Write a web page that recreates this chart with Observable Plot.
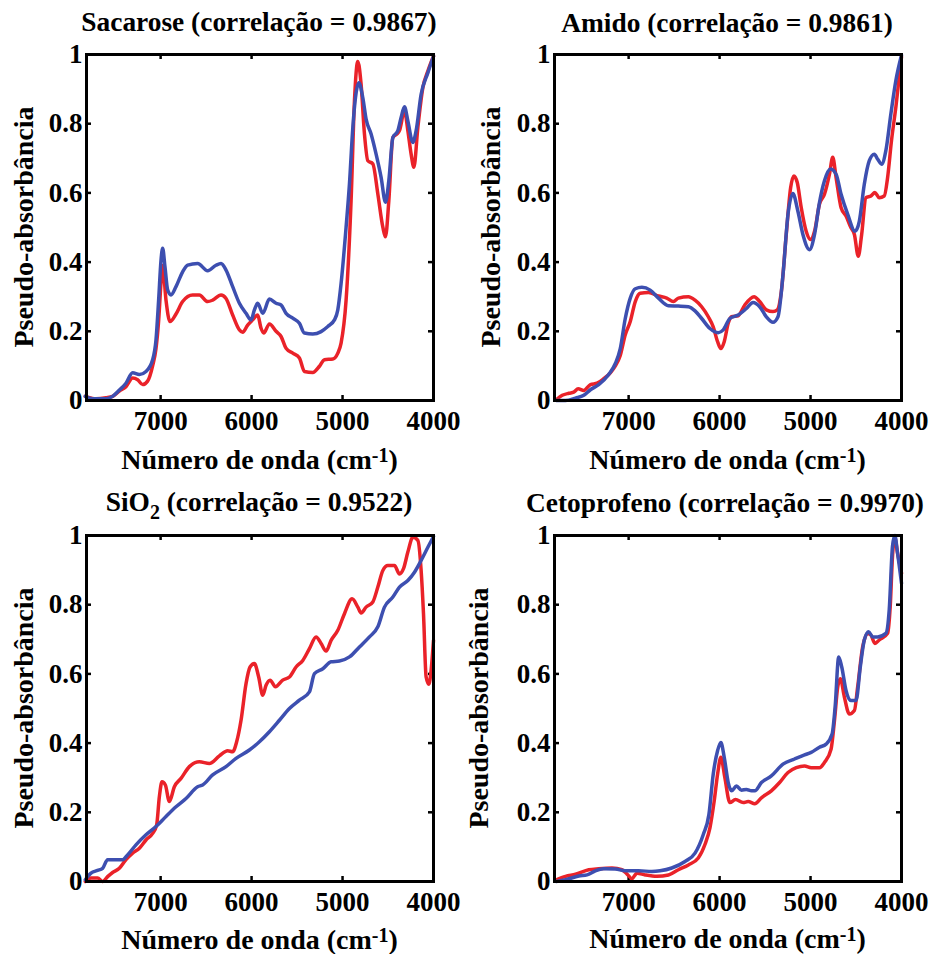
<!DOCTYPE html>
<html><head><meta charset="utf-8">
<script src="https://cdn.jsdelivr.net/npm/d3@7"></script>
<script src="https://cdn.jsdelivr.net/npm/@observablehq/plot@0.6"></script>
<style>
body{margin:0;background:#fff;}
#root{position:relative;width:929px;height:954px;font-family:"Liberation Serif","Times New Roman",serif;font-weight:bold;color:#000;overflow:hidden;}
.t{position:absolute;white-space:nowrap;line-height:1;text-align:center;}
.p{position:absolute;}
</style></head><body><div id="root"></div>
<script>
// ---- tick labels ----
const xTicks = [7000, 6000, 5000, 4000];
const yTicks = [0, 0.2, 0.4, 0.6, 0.8, 1];
const titles = ["Sacarose (correlação = 0.9867)", "Amido (correlação = 0.9861)", "SiO<sub>2</sub> (correlação = 0.9522)", "Cetoprofeno (correlação = 0.9970)"];
const xLabel = "Número de onda (cm<sup>-1</sup>)";
const yLabel = "Pseudo-absorbância";

// ---- Sacarose ----
const sacaroseRedWn = [7828,7711,7601,7528,7454,7381,7308,7253,7198,7143,7088,7051,7022,6996,6978,6941,6897,6831,6758,6648,6574,6483,6428,6336,6281,6208,6134,6098,6043,5988,5933,5896,5867,5804,5731,5676,5621,5547,5474,5419,5327,5254,5199,5107,5052,5016,4961,4906,4869,4832,4796,4759,4722,4667,4612,4557,4528,4491,4447,4403,4374,4319,4282,4246,4216,4172,4117,4062,4000];
const sacaroseRed = [0.012,0.005,0.008,0.012,0.027,0.04,0.065,0.06,0.046,0.056,0.10,0.15,0.23,0.34,0.39,0.29,0.228,0.25,0.286,0.305,0.305,0.286,0.29,0.305,0.295,0.247,0.204,0.197,0.218,0.233,0.247,0.209,0.195,0.221,0.2,0.185,0.151,0.137,0.123,0.084,0.081,0.099,0.118,0.12,0.137,0.166,0.29,0.578,0.866,0.98,0.914,0.77,0.693,0.684,0.597,0.501,0.473,0.578,0.76,0.77,0.78,0.837,0.78,0.712,0.674,0.789,0.904,0.952,0.995];
const sacaroseBlueWn = [7828,7748,7601,7528,7454,7381,7308,7234,7161,7088,7051,7022,6996,6978,6952,6923,6886,6831,6758,6703,6593,6483,6391,6336,6281,6208,6134,6061,6006,5969,5933,5877,5804,5731,5676,5621,5547,5474,5419,5327,5236,5162,5089,5052,5016,4961,4924,4887,4858,4821,4777,4741,4686,4631,4576,4528,4491,4447,4392,4356,4319,4282,4227,4191,4136,4062,4000];
const sacaroseBlue = [0.012,0.005,0.005,0.012,0.03,0.05,0.08,0.075,0.084,0.118,0.175,0.29,0.405,0.44,0.386,0.32,0.305,0.329,0.372,0.391,0.396,0.375,0.391,0.396,0.377,0.329,0.281,0.252,0.233,0.262,0.281,0.252,0.293,0.281,0.276,0.252,0.238,0.223,0.195,0.192,0.199,0.214,0.233,0.262,0.338,0.501,0.626,0.789,0.875,0.918,0.875,0.813,0.77,0.712,0.645,0.573,0.636,0.76,0.78,0.818,0.849,0.808,0.746,0.78,0.885,0.947,0.995];

// ---- Amido ----
const amidoRedWn = [7796,7730,7657,7603,7555,7493,7420,7347,7274,7201,7146,7092,7037,6982,6927,6873,6781,6672,6581,6508,6453,6343,6270,6197,6124,6070,6022,5986,5949,5905,5869,5796,5723,5621,5559,5486,5413,5365,5321,5267,5219,5183,5146,5102,5048,5000,4956,4902,4847,4792,4756,4719,4664,4610,4555,4518,4475,4438,4391,4336,4292,4245,4190,4153,4110,4062,4000];
const amidoRed = [0.002,0.015,0.021,0.024,0.034,0.029,0.046,0.05,0.063,0.08,0.1,0.13,0.19,0.228,0.286,0.31,0.312,0.302,0.296,0.286,0.296,0.3,0.29,0.271,0.242,0.213,0.17,0.15,0.17,0.223,0.242,0.245,0.276,0.3,0.286,0.262,0.257,0.262,0.315,0.48,0.615,0.649,0.63,0.557,0.489,0.465,0.489,0.567,0.596,0.654,0.703,0.644,0.557,0.533,0.499,0.48,0.417,0.48,0.586,0.591,0.601,0.586,0.591,0.644,0.751,0.848,0.993];
const amidoBlueWn = [7796,7694,7584,7493,7420,7329,7219,7146,7092,7037,6982,6927,6854,6763,6672,6562,6453,6343,6270,6197,6106,6015,5960,5887,5796,5705,5632,5559,5486,5413,5358,5303,5248,5194,5139,5084,5011,4956,4902,4847,4781,4719,4664,4591,4511,4464,4409,4354,4299,4263,4219,4172,4117,4062,4000];
const amidoBlue = [0,0,0.007,0.015,0.031,0.046,0.075,0.107,0.15,0.237,0.296,0.323,0.327,0.319,0.296,0.274,0.273,0.271,0.259,0.237,0.208,0.196,0.204,0.237,0.247,0.266,0.283,0.271,0.242,0.226,0.242,0.363,0.538,0.598,0.547,0.48,0.436,0.48,0.572,0.635,0.669,0.654,0.596,0.538,0.489,0.518,0.625,0.693,0.712,0.698,0.683,0.722,0.828,0.925,0.998];

// ---- SiO2 ----
const sio2RedWn = [7828,7766,7693,7638,7583,7528,7454,7381,7308,7234,7161,7088,7044,7014,6985,6948,6904,6849,6776,6684,6574,6464,6354,6263,6208,6164,6116,6061,6017,5969,5922,5877,5841,5797,5738,5658,5584,5511,5437,5364,5291,5236,5181,5126,5052,4979,4895,4832,4796,4741,4667,4612,4557,4502,4429,4374,4330,4282,4227,4172,4136,4110,4081,4051,4026,4000];
const sio2Red = [0,0.01,0.01,0,0.014,0.026,0.038,0.063,0.082,0.096,0.12,0.139,0.163,0.245,0.288,0.279,0.231,0.274,0.298,0.332,0.346,0.341,0.363,0.378,0.375,0.404,0.466,0.572,0.62,0.63,0.591,0.538,0.567,0.582,0.563,0.582,0.591,0.62,0.639,0.673,0.707,0.688,0.666,0.697,0.726,0.774,0.817,0.793,0.776,0.793,0.808,0.851,0.899,0.913,0.913,0.889,0.904,0.952,0.995,0.986,0.899,0.774,0.591,0.57,0.611,0.697];
const sio2BlueWn = [7828,7766,7693,7638,7583,7418,7363,7271,7161,7051,6941,6831,6721,6593,6538,6428,6281,6171,6024,5914,5804,5694,5584,5474,5364,5309,5217,5126,5034,4924,4814,4704,4612,4539,4447,4374,4282,4209,4136,4062,4000];
const sio2Blue = [0.005,0.024,0.032,0.038,0.063,0.063,0.077,0.106,0.135,0.159,0.188,0.216,0.24,0.274,0.279,0.308,0.332,0.356,0.38,0.404,0.433,0.466,0.5,0.524,0.548,0.601,0.615,0.635,0.637,0.649,0.678,0.707,0.736,0.793,0.822,0.851,0.87,0.894,0.928,0.966,0.997];

// ---- Cetoprofeno ----
const cetoRedWn = [7796,7694,7584,7438,7329,7183,7073,7008,6964,6909,6818,6690,6562,6453,6343,6234,6161,6106,6059,6022,5986,5942,5887,5825,5741,5686,5613,5540,5431,5340,5248,5157,5066,4993,4902,4847,4774,4737,4701,4672,4628,4573,4518,4482,4427,4372,4336,4292,4245,4153,4124,4099,4073,4044,4000];
const cetoRed = [0.005,0.015,0.021,0.034,0.037,0.039,0.034,0.019,0.008,0.024,0.019,0.015,0.019,0.034,0.048,0.068,0.107,0.155,0.233,0.31,0.359,0.3,0.228,0.237,0.228,0.231,0.225,0.242,0.262,0.286,0.315,0.329,0.334,0.329,0.329,0.344,0.383,0.465,0.562,0.586,0.533,0.484,0.494,0.562,0.678,0.717,0.712,0.688,0.698,0.717,0.795,0.94,0.993,0.95,0.891];
const cetoBlueWn = [7796,7694,7548,7457,7366,7274,7146,7037,6891,6745,6654,6526,6380,6270,6179,6117,6070,6022,5986,5949,5905,5869,5814,5759,5705,5650,5613,5540,5431,5303,5175,5066,4993,4902,4829,4763,4730,4690,4657,4610,4555,4500,4453,4409,4361,4318,4263,4172,4135,4099,4073,4044,4000];
const cetoBlue = [0,0.005,0.016,0.019,0.031,0.037,0.036,0.031,0.031,0.029,0.031,0.039,0.058,0.082,0.136,0.194,0.31,0.378,0.402,0.359,0.286,0.262,0.276,0.264,0.266,0.262,0.262,0.286,0.305,0.339,0.354,0.366,0.373,0.388,0.397,0.426,0.504,0.649,0.62,0.552,0.523,0.523,0.62,0.698,0.722,0.707,0.707,0.717,0.785,0.969,1.0,0.95,0.862];

const RED = "#ea2229", BLUE = "#3d4fb0";
const FONT = '"Liberation Serif","Times New Roman",serif';
const W = 347, H = 346, ML = 86, MR = 34, MT = 14, MB = 40;

const rows = (wn, v) => wn.map((w, i) => ({wn: w, a: v[i]}));

const panels = [
  {title: titles[0], fx: 86, fy: 54, tcx: 259, titleBase: 32, xlBase: 468, ylBase: 33, red: rows(sacaroseRedWn, sacaroseRed), blue: rows(sacaroseBlueWn, sacaroseBlue)},
  {title: titles[1], fx: 554, fy: 54, tcx: 727, titleBase: 33, xlBase: 468, ylBase: 500, red: rows(amidoRedWn, amidoRed), blue: rows(amidoBlueWn, amidoBlue)},
  {title: titles[2], fx: 86, fy: 535, tcx: 259, titleBase: 512, xlBase: 948, ylBase: 33, red: rows(sio2RedWn, sio2Red), blue: rows(sio2BlueWn, sio2Blue)},
  {title: titles[3], fx: 554, fy: 535, tcx: 725, titleBase: 513, xlBase: 947, ylBase: 488, red: rows(cetoRedWn, cetoRed), blue: rows(cetoBlueWn, cetoBlue)}
];

const root = document.getElementById("root");
function addText(html, cls, css) {
  const d = document.createElement("div");
  d.className = cls;
  d.innerHTML = html;
  Object.assign(d.style, css);
  root.appendChild(d);
  return d;
}

for (const p of panels) {
  const chart = Plot.plot({
    width: ML + W + MR, height: MT + H + MB,
    marginLeft: ML, marginRight: MR, marginTop: MT, marginBottom: MB,
    x: {domain: [7815, 4000]},
    y: {domain: [0, 1]},
    style: {fontFamily: FONT, fontSize: "27px", fontWeight: "bold", background: "transparent", overflow: "visible", color: "#000"},
    marks: [
      Plot.axisX({ticks: xTicks, tickSize: 0, tickPadding: 10, tickFormat: d => String(d), label: null}),
      Plot.axisY({ticks: yTicks, tickSize: 0, tickPadding: 4, tickFormat: d => String(d), label: null}),
      Plot.ruleX(xTicks, {x: d => d, insetTop: H - 5, strokeWidth: 2.5}),
      Plot.ruleX(xTicks, {x: d => d, insetBottom: H - 5, strokeWidth: 2.5}),
      Plot.ruleY(yTicks, {y: d => d, insetRight: W - 5, strokeWidth: 2.5}),
      Plot.ruleY(yTicks, {y: d => d, insetLeft: W - 5, strokeWidth: 2.5}),
      Plot.line(p.red, {x: "wn", y: "a", stroke: RED, strokeWidth: 3.5, curve: "monotone-x"}),
      Plot.line(p.blue, {x: "wn", y: "a", stroke: BLUE, strokeWidth: 3.5, curve: "monotone-x"}),
      Plot.frame({stroke: "#000", strokeWidth: 3})
    ]
  });
  chart.classList.add("p");
  chart.style.left = (p.fx - ML) + "px";
  chart.style.top = (p.fy - MT) + "px";
  root.appendChild(chart);

  const cx = p.fx + W / 2;
  const TF = 27.4;
  addText(p.title, "t", {left: (p.tcx - 230) + "px", width: "460px", top: (p.titleBase - 0.8375 * TF) + "px", fontSize: TF + "px"});
  addText(xLabel, "t", {left: (cx - 230) + "px", width: "460px", top: (p.xlBase - 0.8375 * 28) + "px", fontSize: "28px"});
  const ycx = p.ylBase - 0.8375 * 28 + 14;
  addText(yLabel, "t", {left: (ycx - H / 2) + "px", width: H + "px", height: "28px", top: (p.fy + H / 2 - 14) + "px", fontSize: "28px", transform: "rotate(-90deg)"});
}
document.querySelectorAll("sup").forEach(s => { s.style.fontSize = "20px"; s.style.verticalAlign = "7px"; s.style.lineHeight = "1"; });
document.querySelectorAll("sub").forEach(s => { s.style.fontSize = "20px"; s.style.verticalAlign = "-8px"; s.style.lineHeight = "1"; });
</script></body></html>
